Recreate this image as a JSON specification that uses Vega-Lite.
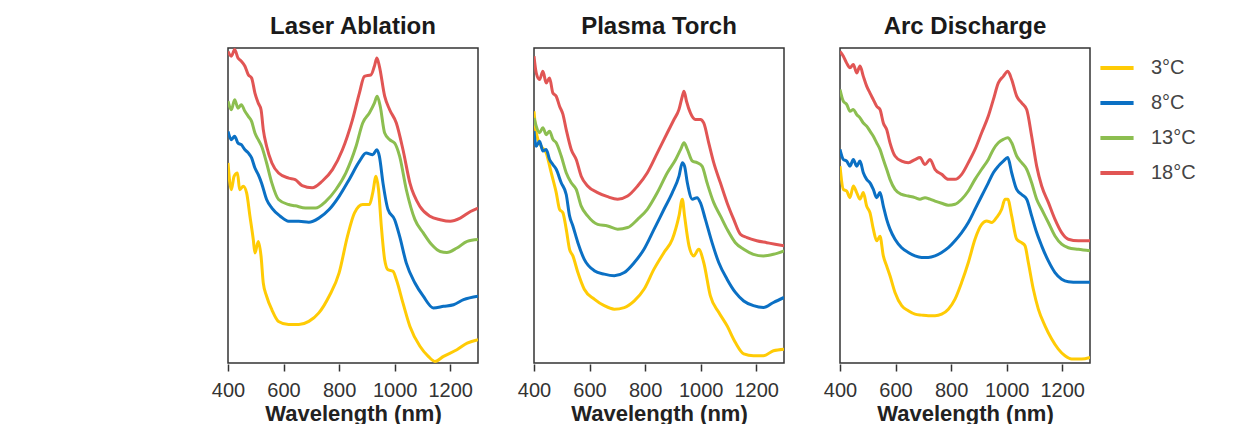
{
  "$schema": "https://vega.github.io/schema/vega-lite/v6.json",
  "padding": {"left": 211, "top": 15, "right": 0, "bottom": 0},
  "config": {
    "font": "Liberation Sans",
    "view": {"stroke": "#333333", "strokeWidth": 1.5},
    "facet": {"spacing": 54}
  },
  "datasets": {
    "spectra": [
      {"panel": "Laser Ablation", "temp": "3°C", "wl": 400, "abs": 63.5},
      {"panel": "Laser Ablation", "temp": "3°C", "wl": 412, "abs": 55.0},
      {"panel": "Laser Ablation", "temp": "3°C", "wl": 422, "abs": 59.3},
      {"panel": "Laser Ablation", "temp": "3°C", "wl": 434, "abs": 60.3},
      {"panel": "Laser Ablation", "temp": "3°C", "wl": 442, "abs": 55.0},
      {"panel": "Laser Ablation", "temp": "3°C", "wl": 455, "abs": 56.1},
      {"panel": "Laser Ablation", "temp": "3°C", "wl": 467, "abs": 54.0},
      {"panel": "Laser Ablation", "temp": "3°C", "wl": 479, "abs": 46.6},
      {"panel": "Laser Ablation", "temp": "3°C", "wl": 491, "abs": 39.2},
      {"panel": "Laser Ablation", "temp": "3°C", "wl": 497, "abs": 34.9},
      {"panel": "Laser Ablation", "temp": "3°C", "wl": 509, "abs": 38.6},
      {"panel": "Laser Ablation", "temp": "3°C", "wl": 519, "abs": 33.9},
      {"panel": "Laser Ablation", "temp": "3°C", "wl": 527, "abs": 25.4},
      {"panel": "Laser Ablation", "temp": "3°C", "wl": 539, "abs": 21.2},
      {"panel": "Laser Ablation", "temp": "3°C", "wl": 558, "abs": 16.9},
      {"panel": "Laser Ablation", "temp": "3°C", "wl": 582, "abs": 13.2},
      {"panel": "Laser Ablation", "temp": "3°C", "wl": 618, "abs": 12.2},
      {"panel": "Laser Ablation", "temp": "3°C", "wl": 655, "abs": 12.2},
      {"panel": "Laser Ablation", "temp": "3°C", "wl": 691, "abs": 13.2},
      {"panel": "Laser Ablation", "temp": "3°C", "wl": 727, "abs": 15.9},
      {"panel": "Laser Ablation", "temp": "3°C", "wl": 764, "abs": 21.2},
      {"panel": "Laser Ablation", "temp": "3°C", "wl": 800, "abs": 28.6},
      {"panel": "Laser Ablation", "temp": "3°C", "wl": 830, "abs": 40.2},
      {"panel": "Laser Ablation", "temp": "3°C", "wl": 855, "abs": 47.6},
      {"panel": "Laser Ablation", "temp": "3°C", "wl": 885, "abs": 50.3},
      {"panel": "Laser Ablation", "temp": "3°C", "wl": 909, "abs": 50.3},
      {"panel": "Laser Ablation", "temp": "3°C", "wl": 921, "abs": 54.0},
      {"panel": "Laser Ablation", "temp": "3°C", "wl": 933, "abs": 59.3},
      {"panel": "Laser Ablation", "temp": "3°C", "wl": 942, "abs": 55.0},
      {"panel": "Laser Ablation", "temp": "3°C", "wl": 952, "abs": 43.4},
      {"panel": "Laser Ablation", "temp": "3°C", "wl": 964, "abs": 32.8},
      {"panel": "Laser Ablation", "temp": "3°C", "wl": 976, "abs": 29.6},
      {"panel": "Laser Ablation", "temp": "3°C", "wl": 994, "abs": 29.1},
      {"panel": "Laser Ablation", "temp": "3°C", "wl": 1006, "abs": 26.5},
      {"panel": "Laser Ablation", "temp": "3°C", "wl": 1030, "abs": 19.0},
      {"panel": "Laser Ablation", "temp": "3°C", "wl": 1055, "abs": 11.6},
      {"panel": "Laser Ablation", "temp": "3°C", "wl": 1091, "abs": 5.3},
      {"panel": "Laser Ablation", "temp": "3°C", "wl": 1121, "abs": 2.1},
      {"panel": "Laser Ablation", "temp": "3°C", "wl": 1145, "abs": 0.5},
      {"panel": "Laser Ablation", "temp": "3°C", "wl": 1176, "abs": 2.1},
      {"panel": "Laser Ablation", "temp": "3°C", "wl": 1224, "abs": 4.2},
      {"panel": "Laser Ablation", "temp": "3°C", "wl": 1261, "abs": 6.3},
      {"panel": "Laser Ablation", "temp": "3°C", "wl": 1300, "abs": 7.4},

      {"panel": "Laser Ablation", "temp": "8°C", "wl": 400, "abs": 73.5},
      {"panel": "Laser Ablation", "temp": "8°C", "wl": 412, "abs": 70.9},
      {"panel": "Laser Ablation", "temp": "8°C", "wl": 424, "abs": 72.0},
      {"panel": "Laser Ablation", "temp": "8°C", "wl": 436, "abs": 69.8},
      {"panel": "Laser Ablation", "temp": "8°C", "wl": 448, "abs": 69.3},
      {"panel": "Laser Ablation", "temp": "8°C", "wl": 461, "abs": 67.7},
      {"panel": "Laser Ablation", "temp": "8°C", "wl": 473, "abs": 66.7},
      {"panel": "Laser Ablation", "temp": "8°C", "wl": 485, "abs": 65.1},
      {"panel": "Laser Ablation", "temp": "8°C", "wl": 497, "abs": 61.9},
      {"panel": "Laser Ablation", "temp": "8°C", "wl": 509, "abs": 59.8},
      {"panel": "Laser Ablation", "temp": "8°C", "wl": 521, "abs": 57.1},
      {"panel": "Laser Ablation", "temp": "8°C", "wl": 539, "abs": 51.9},
      {"panel": "Laser Ablation", "temp": "8°C", "wl": 558, "abs": 49.2},
      {"panel": "Laser Ablation", "temp": "8°C", "wl": 588, "abs": 46.6},
      {"panel": "Laser Ablation", "temp": "8°C", "wl": 618, "abs": 45.0},
      {"panel": "Laser Ablation", "temp": "8°C", "wl": 655, "abs": 45.0},
      {"panel": "Laser Ablation", "temp": "8°C", "wl": 691, "abs": 44.7},
      {"panel": "Laser Ablation", "temp": "8°C", "wl": 727, "abs": 46.0},
      {"panel": "Laser Ablation", "temp": "8°C", "wl": 764, "abs": 48.7},
      {"panel": "Laser Ablation", "temp": "8°C", "wl": 800, "abs": 52.9},
      {"panel": "Laser Ablation", "temp": "8°C", "wl": 836, "abs": 58.2},
      {"panel": "Laser Ablation", "temp": "8°C", "wl": 873, "abs": 64.0},
      {"panel": "Laser Ablation", "temp": "8°C", "wl": 897, "abs": 66.7},
      {"panel": "Laser Ablation", "temp": "8°C", "wl": 921, "abs": 66.1},
      {"panel": "Laser Ablation", "temp": "8°C", "wl": 936, "abs": 67.7},
      {"panel": "Laser Ablation", "temp": "8°C", "wl": 945, "abs": 65.6},
      {"panel": "Laser Ablation", "temp": "8°C", "wl": 958, "abs": 57.1},
      {"panel": "Laser Ablation", "temp": "8°C", "wl": 976, "abs": 48.7},
      {"panel": "Laser Ablation", "temp": "8°C", "wl": 1000, "abs": 45.5},
      {"panel": "Laser Ablation", "temp": "8°C", "wl": 1018, "abs": 40.2},
      {"panel": "Laser Ablation", "temp": "8°C", "wl": 1042, "abs": 31.7},
      {"panel": "Laser Ablation", "temp": "8°C", "wl": 1073, "abs": 25.4},
      {"panel": "Laser Ablation", "temp": "8°C", "wl": 1103, "abs": 21.2},
      {"panel": "Laser Ablation", "temp": "8°C", "wl": 1139, "abs": 17.5},
      {"panel": "Laser Ablation", "temp": "8°C", "wl": 1176, "abs": 18.0},
      {"panel": "Laser Ablation", "temp": "8°C", "wl": 1212, "abs": 18.5},
      {"panel": "Laser Ablation", "temp": "8°C", "wl": 1248, "abs": 20.1},
      {"panel": "Laser Ablation", "temp": "8°C", "wl": 1300, "abs": 21.2},

      {"panel": "Laser Ablation", "temp": "13°C", "wl": 400, "abs": 83.1},
      {"panel": "Laser Ablation", "temp": "13°C", "wl": 412, "abs": 80.4},
      {"panel": "Laser Ablation", "temp": "13°C", "wl": 424, "abs": 83.6},
      {"panel": "Laser Ablation", "temp": "13°C", "wl": 436, "abs": 80.9},
      {"panel": "Laser Ablation", "temp": "13°C", "wl": 448, "abs": 82.0},
      {"panel": "Laser Ablation", "temp": "13°C", "wl": 461, "abs": 79.9},
      {"panel": "Laser Ablation", "temp": "13°C", "wl": 473, "abs": 78.3},
      {"panel": "Laser Ablation", "temp": "13°C", "wl": 485, "abs": 76.7},
      {"panel": "Laser Ablation", "temp": "13°C", "wl": 497, "abs": 73.0},
      {"panel": "Laser Ablation", "temp": "13°C", "wl": 509, "abs": 70.9},
      {"panel": "Laser Ablation", "temp": "13°C", "wl": 521, "abs": 68.8},
      {"panel": "Laser Ablation", "temp": "13°C", "wl": 539, "abs": 63.5},
      {"panel": "Laser Ablation", "temp": "13°C", "wl": 558, "abs": 57.1},
      {"panel": "Laser Ablation", "temp": "13°C", "wl": 582, "abs": 51.9},
      {"panel": "Laser Ablation", "temp": "13°C", "wl": 618, "abs": 50.3},
      {"panel": "Laser Ablation", "temp": "13°C", "wl": 642, "abs": 49.9},
      {"panel": "Laser Ablation", "temp": "13°C", "wl": 679, "abs": 49.2},
      {"panel": "Laser Ablation", "temp": "13°C", "wl": 715, "abs": 49.2},
      {"panel": "Laser Ablation", "temp": "13°C", "wl": 752, "abs": 51.3},
      {"panel": "Laser Ablation", "temp": "13°C", "wl": 788, "abs": 55.0},
      {"panel": "Laser Ablation", "temp": "13°C", "wl": 824, "abs": 60.3},
      {"panel": "Laser Ablation", "temp": "13°C", "wl": 861, "abs": 68.8},
      {"panel": "Laser Ablation", "temp": "13°C", "wl": 885, "abs": 76.2},
      {"panel": "Laser Ablation", "temp": "13°C", "wl": 909, "abs": 79.4},
      {"panel": "Laser Ablation", "temp": "13°C", "wl": 927, "abs": 82.5},
      {"panel": "Laser Ablation", "temp": "13°C", "wl": 937, "abs": 84.7},
      {"panel": "Laser Ablation", "temp": "13°C", "wl": 948, "abs": 81.5},
      {"panel": "Laser Ablation", "temp": "13°C", "wl": 964, "abs": 73.0},
      {"panel": "Laser Ablation", "temp": "13°C", "wl": 982, "abs": 70.9},
      {"panel": "Laser Ablation", "temp": "13°C", "wl": 1000, "abs": 69.8},
      {"panel": "Laser Ablation", "temp": "13°C", "wl": 1018, "abs": 65.6},
      {"panel": "Laser Ablation", "temp": "13°C", "wl": 1042, "abs": 55.0},
      {"panel": "Laser Ablation", "temp": "13°C", "wl": 1073, "abs": 45.5},
      {"panel": "Laser Ablation", "temp": "13°C", "wl": 1103, "abs": 41.3},
      {"panel": "Laser Ablation", "temp": "13°C", "wl": 1133, "abs": 37.6},
      {"panel": "Laser Ablation", "temp": "13°C", "wl": 1164, "abs": 35.4},
      {"panel": "Laser Ablation", "temp": "13°C", "wl": 1188, "abs": 35.1},
      {"panel": "Laser Ablation", "temp": "13°C", "wl": 1224, "abs": 36.5},
      {"panel": "Laser Ablation", "temp": "13°C", "wl": 1261, "abs": 38.6},
      {"panel": "Laser Ablation", "temp": "13°C", "wl": 1300, "abs": 39.2},

      {"panel": "Laser Ablation", "temp": "18°C", "wl": 400, "abs": 98.9},
      {"panel": "Laser Ablation", "temp": "18°C", "wl": 412, "abs": 97.4},
      {"panel": "Laser Ablation", "temp": "18°C", "wl": 424, "abs": 99.5},
      {"panel": "Laser Ablation", "temp": "18°C", "wl": 436, "abs": 96.8},
      {"panel": "Laser Ablation", "temp": "18°C", "wl": 448, "abs": 95.8},
      {"panel": "Laser Ablation", "temp": "18°C", "wl": 461, "abs": 94.2},
      {"panel": "Laser Ablation", "temp": "18°C", "wl": 473, "abs": 91.5},
      {"panel": "Laser Ablation", "temp": "18°C", "wl": 485, "abs": 90.5},
      {"panel": "Laser Ablation", "temp": "18°C", "wl": 497, "abs": 85.7},
      {"panel": "Laser Ablation", "temp": "18°C", "wl": 509, "abs": 82.5},
      {"panel": "Laser Ablation", "temp": "18°C", "wl": 519, "abs": 80.4},
      {"panel": "Laser Ablation", "temp": "18°C", "wl": 527, "abs": 74.1},
      {"panel": "Laser Ablation", "temp": "18°C", "wl": 539, "abs": 68.8},
      {"panel": "Laser Ablation", "temp": "18°C", "wl": 558, "abs": 63.5},
      {"panel": "Laser Ablation", "temp": "18°C", "wl": 582, "abs": 60.3},
      {"panel": "Laser Ablation", "temp": "18°C", "wl": 618, "abs": 58.7},
      {"panel": "Laser Ablation", "temp": "18°C", "wl": 642, "abs": 58.2},
      {"panel": "Laser Ablation", "temp": "18°C", "wl": 667, "abs": 56.3},
      {"panel": "Laser Ablation", "temp": "18°C", "wl": 703, "abs": 55.6},
      {"panel": "Laser Ablation", "temp": "18°C", "wl": 739, "abs": 57.7},
      {"panel": "Laser Ablation", "temp": "18°C", "wl": 776, "abs": 61.4},
      {"panel": "Laser Ablation", "temp": "18°C", "wl": 812, "abs": 67.7},
      {"panel": "Laser Ablation", "temp": "18°C", "wl": 848, "abs": 77.2},
      {"panel": "Laser Ablation", "temp": "18°C", "wl": 873, "abs": 85.7},
      {"panel": "Laser Ablation", "temp": "18°C", "wl": 891, "abs": 91.0},
      {"panel": "Laser Ablation", "temp": "18°C", "wl": 915, "abs": 91.5},
      {"panel": "Laser Ablation", "temp": "18°C", "wl": 927, "abs": 94.2},
      {"panel": "Laser Ablation", "temp": "18°C", "wl": 936, "abs": 96.8},
      {"panel": "Laser Ablation", "temp": "18°C", "wl": 945, "abs": 94.2},
      {"panel": "Laser Ablation", "temp": "18°C", "wl": 964, "abs": 84.7},
      {"panel": "Laser Ablation", "temp": "18°C", "wl": 982, "abs": 80.4},
      {"panel": "Laser Ablation", "temp": "18°C", "wl": 1006, "abs": 76.2},
      {"panel": "Laser Ablation", "temp": "18°C", "wl": 1030, "abs": 67.7},
      {"panel": "Laser Ablation", "temp": "18°C", "wl": 1055, "abs": 57.1},
      {"panel": "Laser Ablation", "temp": "18°C", "wl": 1091, "abs": 49.7},
      {"panel": "Laser Ablation", "temp": "18°C", "wl": 1127, "abs": 46.6},
      {"panel": "Laser Ablation", "temp": "18°C", "wl": 1164, "abs": 45.5},
      {"panel": "Laser Ablation", "temp": "18°C", "wl": 1200, "abs": 45.0},
      {"panel": "Laser Ablation", "temp": "18°C", "wl": 1236, "abs": 46.0},
      {"panel": "Laser Ablation", "temp": "18°C", "wl": 1273, "abs": 48.1},
      {"panel": "Laser Ablation", "temp": "18°C", "wl": 1300, "abs": 49.2},

      {"panel": "Plasma Torch", "temp": "3°C", "wl": 400, "abs": 79.9},
      {"panel": "Plasma Torch", "temp": "3°C", "wl": 408, "abs": 73.1},
      {"panel": "Plasma Torch", "temp": "3°C", "wl": 426, "abs": 68.8},
      {"panel": "Plasma Torch", "temp": "3°C", "wl": 444, "abs": 66.7},
      {"panel": "Plasma Torch", "temp": "3°C", "wl": 462, "abs": 60.4},
      {"panel": "Plasma Torch", "temp": "3°C", "wl": 480, "abs": 54.1},
      {"panel": "Plasma Torch", "temp": "3°C", "wl": 492, "abs": 48.8},
      {"panel": "Plasma Torch", "temp": "3°C", "wl": 504, "abs": 47.7},
      {"panel": "Plasma Torch", "temp": "3°C", "wl": 516, "abs": 42.5},
      {"panel": "Plasma Torch", "temp": "3°C", "wl": 528, "abs": 36.1},
      {"panel": "Plasma Torch", "temp": "3°C", "wl": 540, "abs": 34.0},
      {"panel": "Plasma Torch", "temp": "3°C", "wl": 558, "abs": 28.7},
      {"panel": "Plasma Torch", "temp": "3°C", "wl": 581, "abs": 23.4},
      {"panel": "Plasma Torch", "temp": "3°C", "wl": 617, "abs": 20.3},
      {"panel": "Plasma Torch", "temp": "3°C", "wl": 653, "abs": 18.2},
      {"panel": "Plasma Torch", "temp": "3°C", "wl": 689, "abs": 17.1},
      {"panel": "Plasma Torch", "temp": "3°C", "wl": 725, "abs": 17.6},
      {"panel": "Plasma Torch", "temp": "3°C", "wl": 761, "abs": 19.7},
      {"panel": "Plasma Torch", "temp": "3°C", "wl": 796, "abs": 23.4},
      {"panel": "Plasma Torch", "temp": "3°C", "wl": 832, "abs": 29.8},
      {"panel": "Plasma Torch", "temp": "3°C", "wl": 868, "abs": 35.1},
      {"panel": "Plasma Torch", "temp": "3°C", "wl": 898, "abs": 39.3},
      {"panel": "Plasma Torch", "temp": "3°C", "wl": 922, "abs": 46.7},
      {"panel": "Plasma Torch", "temp": "3°C", "wl": 934, "abs": 52.0},
      {"panel": "Plasma Torch", "temp": "3°C", "wl": 942, "abs": 46.7},
      {"panel": "Plasma Torch", "temp": "3°C", "wl": 958, "abs": 37.2},
      {"panel": "Plasma Torch", "temp": "3°C", "wl": 975, "abs": 34.0},
      {"panel": "Plasma Torch", "temp": "3°C", "wl": 993, "abs": 36.1},
      {"panel": "Plasma Torch", "temp": "3°C", "wl": 1011, "abs": 31.9},
      {"panel": "Plasma Torch", "temp": "3°C", "wl": 1035, "abs": 21.3},
      {"panel": "Plasma Torch", "temp": "3°C", "wl": 1065, "abs": 16.1},
      {"panel": "Plasma Torch", "temp": "3°C", "wl": 1095, "abs": 11.8},
      {"panel": "Plasma Torch", "temp": "3°C", "wl": 1125, "abs": 6.5},
      {"panel": "Plasma Torch", "temp": "3°C", "wl": 1155, "abs": 2.9},
      {"panel": "Plasma Torch", "temp": "3°C", "wl": 1190, "abs": 2.3},
      {"panel": "Plasma Torch", "temp": "3°C", "wl": 1226, "abs": 2.3},
      {"panel": "Plasma Torch", "temp": "3°C", "wl": 1262, "abs": 3.9},
      {"panel": "Plasma Torch", "temp": "3°C", "wl": 1300, "abs": 4.4},

      {"panel": "Plasma Torch", "temp": "8°C", "wl": 400, "abs": 73.6},
      {"panel": "Plasma Torch", "temp": "8°C", "wl": 408, "abs": 68.8},
      {"panel": "Plasma Torch", "temp": "8°C", "wl": 420, "abs": 70.4},
      {"panel": "Plasma Torch", "temp": "8°C", "wl": 432, "abs": 67.3},
      {"panel": "Plasma Torch", "temp": "8°C", "wl": 444, "abs": 67.8},
      {"panel": "Plasma Torch", "temp": "8°C", "wl": 456, "abs": 64.6},
      {"panel": "Plasma Torch", "temp": "8°C", "wl": 468, "abs": 63.0},
      {"panel": "Plasma Torch", "temp": "8°C", "wl": 480, "abs": 61.5},
      {"panel": "Plasma Torch", "temp": "8°C", "wl": 498, "abs": 57.2},
      {"panel": "Plasma Torch", "temp": "8°C", "wl": 516, "abs": 53.5},
      {"panel": "Plasma Torch", "temp": "8°C", "wl": 528, "abs": 46.7},
      {"panel": "Plasma Torch", "temp": "8°C", "wl": 540, "abs": 43.5},
      {"panel": "Plasma Torch", "temp": "8°C", "wl": 558, "abs": 38.2},
      {"panel": "Plasma Torch", "temp": "8°C", "wl": 581, "abs": 32.9},
      {"panel": "Plasma Torch", "temp": "8°C", "wl": 617, "abs": 29.3},
      {"panel": "Plasma Torch", "temp": "8°C", "wl": 653, "abs": 28.2},
      {"panel": "Plasma Torch", "temp": "8°C", "wl": 689, "abs": 27.7},
      {"panel": "Plasma Torch", "temp": "8°C", "wl": 725, "abs": 28.7},
      {"panel": "Plasma Torch", "temp": "8°C", "wl": 761, "abs": 31.9},
      {"panel": "Plasma Torch", "temp": "8°C", "wl": 796, "abs": 36.1},
      {"panel": "Plasma Torch", "temp": "8°C", "wl": 832, "abs": 42.4},
      {"panel": "Plasma Torch", "temp": "8°C", "wl": 868, "abs": 48.8},
      {"panel": "Plasma Torch", "temp": "8°C", "wl": 898, "abs": 54.1},
      {"panel": "Plasma Torch", "temp": "8°C", "wl": 922, "abs": 59.3},
      {"panel": "Plasma Torch", "temp": "8°C", "wl": 934, "abs": 63.6},
      {"panel": "Plasma Torch", "temp": "8°C", "wl": 942, "abs": 62.5},
      {"panel": "Plasma Torch", "temp": "8°C", "wl": 952, "abs": 57.2},
      {"panel": "Plasma Torch", "temp": "8°C", "wl": 970, "abs": 52.0},
      {"panel": "Plasma Torch", "temp": "8°C", "wl": 987, "abs": 52.5},
      {"panel": "Plasma Torch", "temp": "8°C", "wl": 999, "abs": 50.9},
      {"panel": "Plasma Torch", "temp": "8°C", "wl": 1017, "abs": 45.6},
      {"panel": "Plasma Torch", "temp": "8°C", "wl": 1041, "abs": 38.2},
      {"panel": "Plasma Torch", "temp": "8°C", "wl": 1065, "abs": 31.9},
      {"panel": "Plasma Torch", "temp": "8°C", "wl": 1095, "abs": 26.6},
      {"panel": "Plasma Torch", "temp": "8°C", "wl": 1125, "abs": 22.4},
      {"panel": "Plasma Torch", "temp": "8°C", "wl": 1155, "abs": 19.7},
      {"panel": "Plasma Torch", "temp": "8°C", "wl": 1190, "abs": 18.2},
      {"panel": "Plasma Torch", "temp": "8°C", "wl": 1226, "abs": 17.6},
      {"panel": "Plasma Torch", "temp": "8°C", "wl": 1262, "abs": 19.2},
      {"panel": "Plasma Torch", "temp": "8°C", "wl": 1300, "abs": 20.8},

      {"panel": "Plasma Torch", "temp": "13°C", "wl": 400, "abs": 77.8},
      {"panel": "Plasma Torch", "temp": "13°C", "wl": 408, "abs": 75.2},
      {"panel": "Plasma Torch", "temp": "13°C", "wl": 420, "abs": 73.1},
      {"panel": "Plasma Torch", "temp": "13°C", "wl": 432, "abs": 74.7},
      {"panel": "Plasma Torch", "temp": "13°C", "wl": 444, "abs": 72.5},
      {"panel": "Plasma Torch", "temp": "13°C", "wl": 456, "abs": 73.6},
      {"panel": "Plasma Torch", "temp": "13°C", "wl": 468, "abs": 71.0},
      {"panel": "Plasma Torch", "temp": "13°C", "wl": 480, "abs": 69.9},
      {"panel": "Plasma Torch", "temp": "13°C", "wl": 498, "abs": 65.7},
      {"panel": "Plasma Torch", "temp": "13°C", "wl": 516, "abs": 60.4},
      {"panel": "Plasma Torch", "temp": "13°C", "wl": 534, "abs": 57.2},
      {"panel": "Plasma Torch", "temp": "13°C", "wl": 552, "abs": 55.1},
      {"panel": "Plasma Torch", "temp": "13°C", "wl": 570, "abs": 49.8},
      {"panel": "Plasma Torch", "temp": "13°C", "wl": 593, "abs": 46.7},
      {"panel": "Plasma Torch", "temp": "13°C", "wl": 629, "abs": 44.0},
      {"panel": "Plasma Torch", "temp": "13°C", "wl": 665, "abs": 43.5},
      {"panel": "Plasma Torch", "temp": "13°C", "wl": 701, "abs": 42.5},
      {"panel": "Plasma Torch", "temp": "13°C", "wl": 737, "abs": 43.0},
      {"panel": "Plasma Torch", "temp": "13°C", "wl": 773, "abs": 45.6},
      {"panel": "Plasma Torch", "temp": "13°C", "wl": 808, "abs": 48.8},
      {"panel": "Plasma Torch", "temp": "13°C", "wl": 844, "abs": 54.1},
      {"panel": "Plasma Torch", "temp": "13°C", "wl": 880, "abs": 60.4},
      {"panel": "Plasma Torch", "temp": "13°C", "wl": 910, "abs": 64.6},
      {"panel": "Plasma Torch", "temp": "13°C", "wl": 928, "abs": 67.8},
      {"panel": "Plasma Torch", "temp": "13°C", "wl": 940, "abs": 69.9},
      {"panel": "Plasma Torch", "temp": "13°C", "wl": 952, "abs": 67.8},
      {"panel": "Plasma Torch", "temp": "13°C", "wl": 970, "abs": 64.1},
      {"panel": "Plasma Torch", "temp": "13°C", "wl": 987, "abs": 63.6},
      {"panel": "Plasma Torch", "temp": "13°C", "wl": 1005, "abs": 62.5},
      {"panel": "Plasma Torch", "temp": "13°C", "wl": 1023, "abs": 57.2},
      {"panel": "Plasma Torch", "temp": "13°C", "wl": 1047, "abs": 50.9},
      {"panel": "Plasma Torch", "temp": "13°C", "wl": 1071, "abs": 46.7},
      {"panel": "Plasma Torch", "temp": "13°C", "wl": 1095, "abs": 42.5},
      {"panel": "Plasma Torch", "temp": "13°C", "wl": 1125, "abs": 38.2},
      {"panel": "Plasma Torch", "temp": "13°C", "wl": 1155, "abs": 36.1},
      {"panel": "Plasma Torch", "temp": "13°C", "wl": 1190, "abs": 34.5},
      {"panel": "Plasma Torch", "temp": "13°C", "wl": 1226, "abs": 34.0},
      {"panel": "Plasma Torch", "temp": "13°C", "wl": 1262, "abs": 34.5},
      {"panel": "Plasma Torch", "temp": "13°C", "wl": 1300, "abs": 35.6},

      {"panel": "Plasma Torch", "temp": "18°C", "wl": 400, "abs": 97.4},
      {"panel": "Plasma Torch", "temp": "18°C", "wl": 408, "abs": 92.1},
      {"panel": "Plasma Torch", "temp": "18°C", "wl": 420, "abs": 90.0},
      {"panel": "Plasma Torch", "temp": "18°C", "wl": 432, "abs": 92.6},
      {"panel": "Plasma Torch", "temp": "18°C", "wl": 444, "abs": 88.9},
      {"panel": "Plasma Torch", "temp": "18°C", "wl": 456, "abs": 90.5},
      {"panel": "Plasma Torch", "temp": "18°C", "wl": 468, "abs": 85.7},
      {"panel": "Plasma Torch", "temp": "18°C", "wl": 480, "abs": 84.7},
      {"panel": "Plasma Torch", "temp": "18°C", "wl": 492, "abs": 81.5},
      {"panel": "Plasma Torch", "temp": "18°C", "wl": 504, "abs": 79.0},
      {"panel": "Plasma Torch", "temp": "18°C", "wl": 516, "abs": 74.1},
      {"panel": "Plasma Torch", "temp": "18°C", "wl": 534, "abs": 67.8},
      {"panel": "Plasma Torch", "temp": "18°C", "wl": 552, "abs": 64.6},
      {"panel": "Plasma Torch", "temp": "18°C", "wl": 570, "abs": 59.3},
      {"panel": "Plasma Torch", "temp": "18°C", "wl": 593, "abs": 56.2},
      {"panel": "Plasma Torch", "temp": "18°C", "wl": 629, "abs": 54.1},
      {"panel": "Plasma Torch", "temp": "18°C", "wl": 665, "abs": 52.8},
      {"panel": "Plasma Torch", "temp": "18°C", "wl": 701, "abs": 52.0},
      {"panel": "Plasma Torch", "temp": "18°C", "wl": 737, "abs": 53.0},
      {"panel": "Plasma Torch", "temp": "18°C", "wl": 773, "abs": 56.2},
      {"panel": "Plasma Torch", "temp": "18°C", "wl": 808, "abs": 60.4},
      {"panel": "Plasma Torch", "temp": "18°C", "wl": 844, "abs": 66.7},
      {"panel": "Plasma Torch", "temp": "18°C", "wl": 880, "abs": 73.1},
      {"panel": "Plasma Torch", "temp": "18°C", "wl": 904, "abs": 77.3},
      {"panel": "Plasma Torch", "temp": "18°C", "wl": 922, "abs": 80.5},
      {"panel": "Plasma Torch", "temp": "18°C", "wl": 934, "abs": 84.7},
      {"panel": "Plasma Torch", "temp": "18°C", "wl": 940, "abs": 86.3},
      {"panel": "Plasma Torch", "temp": "18°C", "wl": 949, "abs": 83.1},
      {"panel": "Plasma Torch", "temp": "18°C", "wl": 963, "abs": 79.4},
      {"panel": "Plasma Torch", "temp": "18°C", "wl": 981, "abs": 77.3},
      {"panel": "Plasma Torch", "temp": "18°C", "wl": 999, "abs": 77.3},
      {"panel": "Plasma Torch", "temp": "18°C", "wl": 1011, "abs": 76.2},
      {"panel": "Plasma Torch", "temp": "18°C", "wl": 1029, "abs": 69.9},
      {"panel": "Plasma Torch", "temp": "18°C", "wl": 1047, "abs": 63.6},
      {"panel": "Plasma Torch", "temp": "18°C", "wl": 1071, "abs": 57.2},
      {"panel": "Plasma Torch", "temp": "18°C", "wl": 1095, "abs": 50.9},
      {"panel": "Plasma Torch", "temp": "18°C", "wl": 1119, "abs": 45.6},
      {"panel": "Plasma Torch", "temp": "18°C", "wl": 1143, "abs": 40.9},
      {"panel": "Plasma Torch", "temp": "18°C", "wl": 1167, "abs": 39.8},
      {"panel": "Plasma Torch", "temp": "18°C", "wl": 1202, "abs": 38.8},
      {"panel": "Plasma Torch", "temp": "18°C", "wl": 1238, "abs": 38.2},
      {"panel": "Plasma Torch", "temp": "18°C", "wl": 1268, "abs": 37.7},
      {"panel": "Plasma Torch", "temp": "18°C", "wl": 1300, "abs": 37.2},

      {"panel": "Arc Discharge", "temp": "3°C", "wl": 400, "abs": 62.5},
      {"panel": "Arc Discharge", "temp": "3°C", "wl": 412, "abs": 55.1},
      {"panel": "Arc Discharge", "temp": "3°C", "wl": 424, "abs": 54.6},
      {"panel": "Arc Discharge", "temp": "3°C", "wl": 436, "abs": 52.5},
      {"panel": "Arc Discharge", "temp": "3°C", "wl": 448, "abs": 56.2},
      {"panel": "Arc Discharge", "temp": "3°C", "wl": 460, "abs": 54.1},
      {"panel": "Arc Discharge", "temp": "3°C", "wl": 472, "abs": 52.0},
      {"panel": "Arc Discharge", "temp": "3°C", "wl": 484, "abs": 54.1},
      {"panel": "Arc Discharge", "temp": "3°C", "wl": 496, "abs": 49.8},
      {"panel": "Arc Discharge", "temp": "3°C", "wl": 508, "abs": 47.7},
      {"panel": "Arc Discharge", "temp": "3°C", "wl": 520, "abs": 42.5},
      {"panel": "Arc Discharge", "temp": "3°C", "wl": 532, "abs": 38.8},
      {"panel": "Arc Discharge", "temp": "3°C", "wl": 544, "abs": 40.2},
      {"panel": "Arc Discharge", "temp": "3°C", "wl": 556, "abs": 34.0},
      {"panel": "Arc Discharge", "temp": "3°C", "wl": 568, "abs": 30.8},
      {"panel": "Arc Discharge", "temp": "3°C", "wl": 580, "abs": 27.7},
      {"panel": "Arc Discharge", "temp": "3°C", "wl": 598, "abs": 22.4},
      {"panel": "Arc Discharge", "temp": "3°C", "wl": 622, "abs": 18.2},
      {"panel": "Arc Discharge", "temp": "3°C", "wl": 646, "abs": 16.6},
      {"panel": "Arc Discharge", "temp": "3°C", "wl": 670, "abs": 15.5},
      {"panel": "Arc Discharge", "temp": "3°C", "wl": 694, "abs": 15.2},
      {"panel": "Arc Discharge", "temp": "3°C", "wl": 718, "abs": 15.0},
      {"panel": "Arc Discharge", "temp": "3°C", "wl": 742, "abs": 15.0},
      {"panel": "Arc Discharge", "temp": "3°C", "wl": 766, "abs": 15.5},
      {"panel": "Arc Discharge", "temp": "3°C", "wl": 790, "abs": 17.1},
      {"panel": "Arc Discharge", "temp": "3°C", "wl": 814, "abs": 20.3},
      {"panel": "Arc Discharge", "temp": "3°C", "wl": 838, "abs": 25.6},
      {"panel": "Arc Discharge", "temp": "3°C", "wl": 862, "abs": 31.9},
      {"panel": "Arc Discharge", "temp": "3°C", "wl": 886, "abs": 39.3},
      {"panel": "Arc Discharge", "temp": "3°C", "wl": 910, "abs": 44.0},
      {"panel": "Arc Discharge", "temp": "3°C", "wl": 928, "abs": 45.1},
      {"panel": "Arc Discharge", "temp": "3°C", "wl": 946, "abs": 44.6},
      {"panel": "Arc Discharge", "temp": "3°C", "wl": 964, "abs": 46.2},
      {"panel": "Arc Discharge", "temp": "3°C", "wl": 982, "abs": 48.8},
      {"panel": "Arc Discharge", "temp": "3°C", "wl": 994, "abs": 52.0},
      {"panel": "Arc Discharge", "temp": "3°C", "wl": 1004, "abs": 52.0},
      {"panel": "Arc Discharge", "temp": "3°C", "wl": 1018, "abs": 46.7},
      {"panel": "Arc Discharge", "temp": "3°C", "wl": 1036, "abs": 39.3},
      {"panel": "Arc Discharge", "temp": "3°C", "wl": 1054, "abs": 38.2},
      {"panel": "Arc Discharge", "temp": "3°C", "wl": 1066, "abs": 37.2},
      {"panel": "Arc Discharge", "temp": "3°C", "wl": 1078, "abs": 31.9},
      {"panel": "Arc Discharge", "temp": "3°C", "wl": 1096, "abs": 23.4},
      {"panel": "Arc Discharge", "temp": "3°C", "wl": 1114, "abs": 17.1},
      {"panel": "Arc Discharge", "temp": "3°C", "wl": 1138, "abs": 11.8},
      {"panel": "Arc Discharge", "temp": "3°C", "wl": 1162, "abs": 7.6},
      {"panel": "Arc Discharge", "temp": "3°C", "wl": 1186, "abs": 4.4},
      {"panel": "Arc Discharge", "temp": "3°C", "wl": 1210, "abs": 2.3},
      {"panel": "Arc Discharge", "temp": "3°C", "wl": 1234, "abs": 1.3},
      {"panel": "Arc Discharge", "temp": "3°C", "wl": 1270, "abs": 1.3},
      {"panel": "Arc Discharge", "temp": "3°C", "wl": 1300, "abs": 1.8},

      {"panel": "Arc Discharge", "temp": "8°C", "wl": 400, "abs": 67.8},
      {"panel": "Arc Discharge", "temp": "8°C", "wl": 412, "abs": 64.6},
      {"panel": "Arc Discharge", "temp": "8°C", "wl": 424, "abs": 64.1},
      {"panel": "Arc Discharge", "temp": "8°C", "wl": 436, "abs": 62.5},
      {"panel": "Arc Discharge", "temp": "8°C", "wl": 448, "abs": 64.6},
      {"panel": "Arc Discharge", "temp": "8°C", "wl": 460, "abs": 62.5},
      {"panel": "Arc Discharge", "temp": "8°C", "wl": 472, "abs": 64.1},
      {"panel": "Arc Discharge", "temp": "8°C", "wl": 484, "abs": 60.4},
      {"panel": "Arc Discharge", "temp": "8°C", "wl": 496, "abs": 58.3},
      {"panel": "Arc Discharge", "temp": "8°C", "wl": 508, "abs": 57.2},
      {"panel": "Arc Discharge", "temp": "8°C", "wl": 520, "abs": 55.1},
      {"panel": "Arc Discharge", "temp": "8°C", "wl": 532, "abs": 52.5},
      {"panel": "Arc Discharge", "temp": "8°C", "wl": 544, "abs": 54.1},
      {"panel": "Arc Discharge", "temp": "8°C", "wl": 556, "abs": 49.8},
      {"panel": "Arc Discharge", "temp": "8°C", "wl": 568, "abs": 45.6},
      {"panel": "Arc Discharge", "temp": "8°C", "wl": 580, "abs": 42.5},
      {"panel": "Arc Discharge", "temp": "8°C", "wl": 598, "abs": 39.3},
      {"panel": "Arc Discharge", "temp": "8°C", "wl": 622, "abs": 36.6},
      {"panel": "Arc Discharge", "temp": "8°C", "wl": 646, "abs": 35.1},
      {"panel": "Arc Discharge", "temp": "8°C", "wl": 670, "abs": 34.0},
      {"panel": "Arc Discharge", "temp": "8°C", "wl": 694, "abs": 33.5},
      {"panel": "Arc Discharge", "temp": "8°C", "wl": 718, "abs": 33.5},
      {"panel": "Arc Discharge", "temp": "8°C", "wl": 742, "abs": 34.0},
      {"panel": "Arc Discharge", "temp": "8°C", "wl": 766, "abs": 35.1},
      {"panel": "Arc Discharge", "temp": "8°C", "wl": 790, "abs": 36.6},
      {"panel": "Arc Discharge", "temp": "8°C", "wl": 814, "abs": 38.8},
      {"panel": "Arc Discharge", "temp": "8°C", "wl": 838, "abs": 41.4},
      {"panel": "Arc Discharge", "temp": "8°C", "wl": 862, "abs": 44.6},
      {"panel": "Arc Discharge", "temp": "8°C", "wl": 886, "abs": 48.8},
      {"panel": "Arc Discharge", "temp": "8°C", "wl": 910, "abs": 53.0},
      {"panel": "Arc Discharge", "temp": "8°C", "wl": 934, "abs": 57.2},
      {"panel": "Arc Discharge", "temp": "8°C", "wl": 952, "abs": 60.4},
      {"panel": "Arc Discharge", "temp": "8°C", "wl": 970, "abs": 62.5},
      {"panel": "Arc Discharge", "temp": "8°C", "wl": 988, "abs": 64.1},
      {"panel": "Arc Discharge", "temp": "8°C", "wl": 1004, "abs": 65.2},
      {"panel": "Arc Discharge", "temp": "8°C", "wl": 1018, "abs": 60.4},
      {"panel": "Arc Discharge", "temp": "8°C", "wl": 1036, "abs": 55.1},
      {"panel": "Arc Discharge", "temp": "8°C", "wl": 1054, "abs": 53.5},
      {"panel": "Arc Discharge", "temp": "8°C", "wl": 1072, "abs": 52.0},
      {"panel": "Arc Discharge", "temp": "8°C", "wl": 1090, "abs": 46.7},
      {"panel": "Arc Discharge", "temp": "8°C", "wl": 1108, "abs": 41.4},
      {"panel": "Arc Discharge", "temp": "8°C", "wl": 1126, "abs": 37.2},
      {"panel": "Arc Discharge", "temp": "8°C", "wl": 1150, "abs": 32.4},
      {"panel": "Arc Discharge", "temp": "8°C", "wl": 1174, "abs": 28.7},
      {"panel": "Arc Discharge", "temp": "8°C", "wl": 1198, "abs": 26.6},
      {"panel": "Arc Discharge", "temp": "8°C", "wl": 1222, "abs": 25.8},
      {"panel": "Arc Discharge", "temp": "8°C", "wl": 1258, "abs": 25.6},
      {"panel": "Arc Discharge", "temp": "8°C", "wl": 1300, "abs": 25.6},

      {"panel": "Arc Discharge", "temp": "13°C", "wl": 400, "abs": 86.8},
      {"panel": "Arc Discharge", "temp": "13°C", "wl": 412, "abs": 83.1},
      {"panel": "Arc Discharge", "temp": "13°C", "wl": 424, "abs": 82.1},
      {"panel": "Arc Discharge", "temp": "13°C", "wl": 436, "abs": 79.9},
      {"panel": "Arc Discharge", "temp": "13°C", "wl": 448, "abs": 80.5},
      {"panel": "Arc Discharge", "temp": "13°C", "wl": 460, "abs": 78.9},
      {"panel": "Arc Discharge", "temp": "13°C", "wl": 472, "abs": 77.8},
      {"panel": "Arc Discharge", "temp": "13°C", "wl": 484, "abs": 76.2},
      {"panel": "Arc Discharge", "temp": "13°C", "wl": 496, "abs": 75.2},
      {"panel": "Arc Discharge", "temp": "13°C", "wl": 508, "abs": 73.6},
      {"panel": "Arc Discharge", "temp": "13°C", "wl": 520, "abs": 72.0},
      {"panel": "Arc Discharge", "temp": "13°C", "wl": 532, "abs": 69.9},
      {"panel": "Arc Discharge", "temp": "13°C", "wl": 544, "abs": 67.8},
      {"panel": "Arc Discharge", "temp": "13°C", "wl": 556, "abs": 64.6},
      {"panel": "Arc Discharge", "temp": "13°C", "wl": 568, "abs": 61.5},
      {"panel": "Arc Discharge", "temp": "13°C", "wl": 580, "abs": 58.3},
      {"panel": "Arc Discharge", "temp": "13°C", "wl": 598, "abs": 55.1},
      {"panel": "Arc Discharge", "temp": "13°C", "wl": 622, "abs": 53.5},
      {"panel": "Arc Discharge", "temp": "13°C", "wl": 646, "abs": 53.0},
      {"panel": "Arc Discharge", "temp": "13°C", "wl": 670, "abs": 52.5},
      {"panel": "Arc Discharge", "temp": "13°C", "wl": 688, "abs": 52.0},
      {"panel": "Arc Discharge", "temp": "13°C", "wl": 706, "abs": 52.5},
      {"panel": "Arc Discharge", "temp": "13°C", "wl": 724, "abs": 52.0},
      {"panel": "Arc Discharge", "temp": "13°C", "wl": 742, "abs": 51.4},
      {"panel": "Arc Discharge", "temp": "13°C", "wl": 766, "abs": 50.7},
      {"panel": "Arc Discharge", "temp": "13°C", "wl": 790, "abs": 50.1},
      {"panel": "Arc Discharge", "temp": "13°C", "wl": 814, "abs": 50.4},
      {"panel": "Arc Discharge", "temp": "13°C", "wl": 838, "abs": 52.0},
      {"panel": "Arc Discharge", "temp": "13°C", "wl": 862, "abs": 54.6},
      {"panel": "Arc Discharge", "temp": "13°C", "wl": 886, "abs": 58.3},
      {"panel": "Arc Discharge", "temp": "13°C", "wl": 910, "abs": 61.5},
      {"panel": "Arc Discharge", "temp": "13°C", "wl": 934, "abs": 64.6},
      {"panel": "Arc Discharge", "temp": "13°C", "wl": 952, "abs": 67.8},
      {"panel": "Arc Discharge", "temp": "13°C", "wl": 970, "abs": 69.9},
      {"panel": "Arc Discharge", "temp": "13°C", "wl": 988, "abs": 71.0},
      {"panel": "Arc Discharge", "temp": "13°C", "wl": 1004, "abs": 71.5},
      {"panel": "Arc Discharge", "temp": "13°C", "wl": 1018, "abs": 69.9},
      {"panel": "Arc Discharge", "temp": "13°C", "wl": 1036, "abs": 65.7},
      {"panel": "Arc Discharge", "temp": "13°C", "wl": 1054, "abs": 63.6},
      {"panel": "Arc Discharge", "temp": "13°C", "wl": 1072, "abs": 61.5},
      {"panel": "Arc Discharge", "temp": "13°C", "wl": 1090, "abs": 57.2},
      {"panel": "Arc Discharge", "temp": "13°C", "wl": 1108, "abs": 52.0},
      {"panel": "Arc Discharge", "temp": "13°C", "wl": 1126, "abs": 48.8},
      {"panel": "Arc Discharge", "temp": "13°C", "wl": 1150, "abs": 44.6},
      {"panel": "Arc Discharge", "temp": "13°C", "wl": 1174, "abs": 40.3},
      {"panel": "Arc Discharge", "temp": "13°C", "wl": 1198, "abs": 37.7},
      {"panel": "Arc Discharge", "temp": "13°C", "wl": 1222, "abs": 36.6},
      {"panel": "Arc Discharge", "temp": "13°C", "wl": 1258, "abs": 36.1},
      {"panel": "Arc Discharge", "temp": "13°C", "wl": 1300, "abs": 35.6},

      {"panel": "Arc Discharge", "temp": "18°C", "wl": 400, "abs": 98.9},
      {"panel": "Arc Discharge", "temp": "18°C", "wl": 412, "abs": 97.4},
      {"panel": "Arc Discharge", "temp": "18°C", "wl": 424, "abs": 95.2},
      {"panel": "Arc Discharge", "temp": "18°C", "wl": 436, "abs": 93.7},
      {"panel": "Arc Discharge", "temp": "18°C", "wl": 448, "abs": 94.8},
      {"panel": "Arc Discharge", "temp": "18°C", "wl": 460, "abs": 92.1},
      {"panel": "Arc Discharge", "temp": "18°C", "wl": 472, "abs": 94.3},
      {"panel": "Arc Discharge", "temp": "18°C", "wl": 484, "abs": 91.0},
      {"panel": "Arc Discharge", "temp": "18°C", "wl": 496, "abs": 87.9},
      {"panel": "Arc Discharge", "temp": "18°C", "wl": 508, "abs": 85.7},
      {"panel": "Arc Discharge", "temp": "18°C", "wl": 520, "abs": 83.6},
      {"panel": "Arc Discharge", "temp": "18°C", "wl": 532, "abs": 81.5},
      {"panel": "Arc Discharge", "temp": "18°C", "wl": 544, "abs": 80.5},
      {"panel": "Arc Discharge", "temp": "18°C", "wl": 556, "abs": 76.2},
      {"panel": "Arc Discharge", "temp": "18°C", "wl": 568, "abs": 74.1},
      {"panel": "Arc Discharge", "temp": "18°C", "wl": 580, "abs": 69.9},
      {"panel": "Arc Discharge", "temp": "18°C", "wl": 598, "abs": 65.7},
      {"panel": "Arc Discharge", "temp": "18°C", "wl": 622, "abs": 64.1},
      {"panel": "Arc Discharge", "temp": "18°C", "wl": 646, "abs": 63.6},
      {"panel": "Arc Discharge", "temp": "18°C", "wl": 670, "abs": 64.6},
      {"panel": "Arc Discharge", "temp": "18°C", "wl": 688, "abs": 65.2},
      {"panel": "Arc Discharge", "temp": "18°C", "wl": 706, "abs": 63.0},
      {"panel": "Arc Discharge", "temp": "18°C", "wl": 724, "abs": 64.6},
      {"panel": "Arc Discharge", "temp": "18°C", "wl": 742, "abs": 61.5},
      {"panel": "Arc Discharge", "temp": "18°C", "wl": 766, "abs": 59.9},
      {"panel": "Arc Discharge", "temp": "18°C", "wl": 790, "abs": 58.3},
      {"panel": "Arc Discharge", "temp": "18°C", "wl": 814, "abs": 58.3},
      {"panel": "Arc Discharge", "temp": "18°C", "wl": 838, "abs": 59.9},
      {"panel": "Arc Discharge", "temp": "18°C", "wl": 862, "abs": 63.6},
      {"panel": "Arc Discharge", "temp": "18°C", "wl": 886, "abs": 67.8},
      {"panel": "Arc Discharge", "temp": "18°C", "wl": 910, "abs": 73.1},
      {"panel": "Arc Discharge", "temp": "18°C", "wl": 934, "abs": 78.4},
      {"panel": "Arc Discharge", "temp": "18°C", "wl": 952, "abs": 83.6},
      {"panel": "Arc Discharge", "temp": "18°C", "wl": 970, "abs": 88.9},
      {"panel": "Arc Discharge", "temp": "18°C", "wl": 988, "abs": 91.0},
      {"panel": "Arc Discharge", "temp": "18°C", "wl": 1004, "abs": 92.6},
      {"panel": "Arc Discharge", "temp": "18°C", "wl": 1018, "abs": 90.0},
      {"panel": "Arc Discharge", "temp": "18°C", "wl": 1036, "abs": 84.7},
      {"panel": "Arc Discharge", "temp": "18°C", "wl": 1054, "abs": 82.6},
      {"panel": "Arc Discharge", "temp": "18°C", "wl": 1072, "abs": 80.5},
      {"panel": "Arc Discharge", "temp": "18°C", "wl": 1090, "abs": 72.0},
      {"panel": "Arc Discharge", "temp": "18°C", "wl": 1108, "abs": 62.5},
      {"panel": "Arc Discharge", "temp": "18°C", "wl": 1126, "abs": 56.2},
      {"panel": "Arc Discharge", "temp": "18°C", "wl": 1150, "abs": 51.0},
      {"panel": "Arc Discharge", "temp": "18°C", "wl": 1174, "abs": 45.6},
      {"panel": "Arc Discharge", "temp": "18°C", "wl": 1198, "abs": 41.4},
      {"panel": "Arc Discharge", "temp": "18°C", "wl": 1222, "abs": 39.3},
      {"panel": "Arc Discharge", "temp": "18°C", "wl": 1258, "abs": 38.8},
      {"panel": "Arc Discharge", "temp": "18°C", "wl": 1300, "abs": 38.8}
    ]
  },
  "data": {"name": "spectra"},
  "facet": {
    "column": {
      "field": "panel",
      "type": "nominal",
      "sort": ["Laser Ablation", "Plasma Torch", "Arc Discharge"],
      "header": {
        "title": null,
        "labelFont": "Liberation Sans",
        "labelFontSize": 24,
        "labelFontWeight": "bold",
        "labelColor": "#1a1a1a",
        "labelPadding": 8
      }
    }
  },
  "spec": {
    "width": 250,
    "height": 315,
    "mark": {"type": "line", "strokeWidth": 3, "interpolate": "monotone", "clip": true},
    "encoding": {
      "x": {
        "field": "wl",
        "type": "quantitative",
        "scale": {"domain": [400, 1300], "nice": false, "zero": false},
        "axis": {
          "title": "Wavelength (nm)",
          "values": [400, 600, 800, 1000, 1200],
          "format": "d",
          "grid": false,
          "domain": false,
          "labelFlush": false,
          "labelOverlap": false,
          "labelFont": "Liberation Sans",
          "labelFontSize": 20,
          "labelColor": "#333333",
          "labelPadding": 9,
          "tickColor": "#333333",
          "tickSize": 7,
          "tickWidth": 1.5,
          "titleFont": "Liberation Sans",
          "titleFontSize": 22,
          "titleFontWeight": "bold",
          "titleColor": "#222222",
          "titlePadding": 3
        }
      },
      "y": {
        "field": "abs",
        "type": "quantitative",
        "scale": {"domain": [0, 100], "nice": false},
        "axis": null
      },
      "color": {
        "field": "temp",
        "type": "nominal",
        "sort": ["3°C", "8°C", "13°C", "18°C"],
        "scale": {
          "domain": ["3°C", "8°C", "13°C", "18°C"],
          "range": ["#FFCB05", "#0B70C4", "#8CBE50", "#E15554"]
        },
        "legend": {
          "title": null,
          "orient": "none",
          "legendX": 870,
          "legendY": 1,
          "symbolType": "stroke",
          "symbolSize": 1100,
          "symbolStrokeWidth": 4,
          "labelFont": "Liberation Sans",
          "labelFontSize": 20,
          "labelColor": "#444444",
          "labelOffset": 15,
          "rowPadding": 6
        }
      }
    }
  }
}
